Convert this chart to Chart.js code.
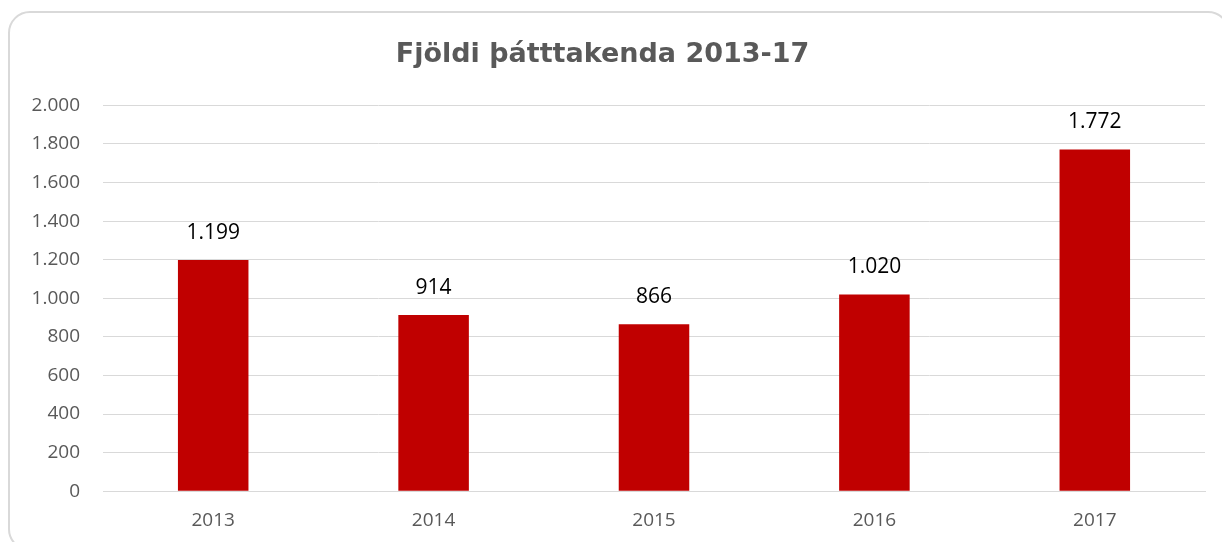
<!DOCTYPE html>
<html>
<head>
<meta charset="utf-8">
<script src="https://cdn.jsdelivr.net/npm/chart.js@4.4.0/dist/chart.umd.min.js"></script>
<style>
  html, body { margin: 0; padding: 0; background: #fff; }
  #wrap { position: relative; width: 1222px; height: 542px; }
  #frame { position: absolute; left: 8px; top: 11px; width: 1222px; height: 540px;
           border: 2px solid #d9d9d9; border-radius: 22px; box-sizing: border-box; }
  canvas { position: absolute; left: 0; top: 0; }
</style>
</head>
<body>
<div id="wrap">
  <div id="frame"></div>
  <canvas id="chart" width="1222" height="542"></canvas>
</div>
<script>
var years = ["2013", "2014", "2015", "2016", "2017"];
var participants = [1199, 914, 866, 1020, 1772];
var yTicks = [0, 200, 400, 600, 800, 1000, 1200, 1400, 1600, 1800, 2000];

/* thousands separator with a dot */
var fmt = function(v){
  return String(v).replace(/\B(?=(\d{3})+(?!\d))/g, ".");
};

/* draws the value above each bar */
var barLabels = {
  id: 'barLabels',
  afterDatasetsDraw: function(chart){
    var ctx = chart.ctx;
    var meta = chart.getDatasetMeta(0);
    ctx.save();
    ctx.font = '21px "Open Sans", "Liberation Sans", sans-serif';
    ctx.fillStyle = '#000000';
    ctx.textAlign = 'center';
    ctx.textBaseline = 'middle';
    meta.data.forEach(function(bar, i){
      ctx.fillText(fmt(chart.data.datasets[0].data[i]), bar.x, bar.y - 27);
    });
    ctx.restore();
  }
};

var ctx = document.getElementById("chart");
var myChart = new Chart(ctx, {
  type: 'bar',
  data: {
    labels: years,
    datasets: [{
      data: participants,
      backgroundColor: '#c00000',
      categoryPercentage: 1,
      barPercentage: 0.32
    }]
  },
  options: {
    responsive: false,
    animation: false,
    layout: { padding: { left: 0, right: 17, top: 39, bottom: 0 } },
    plugins: {
      legend: { display: false },
      tooltip: { enabled: false },
      title: {
        display: true,
        text: 'Fjöldi þátttakenda 2013-17',
        color: '#595959',
        font: { family: '"DejaVu Sans", sans-serif', size: 27, weight: 'bold' },
        padding: { top: 0, bottom: 34 }
      }
    },
    scales: {
      x: {
        grid: { display: false },
        border: { color: '#d9d9d9', width: 1 },
        ticks: { color: '#595959', font: { family: '"Open Sans", sans-serif', size: 19 }, padding: 10 }
      },
      y: {
        min: 0,
        max: 2000,
        afterFit: function(scale){ scale.width = 103; },
        afterBuildTicks: function(scale){
          scale.ticks = yTicks.map(function(v){ return { value: v }; });
        },
        grid: { color: '#d9d9d9', lineWidth: 1, drawTicks: false },
        border: { display: false },
        ticks: {
          color: '#595959',
          font: { family: '"Open Sans", sans-serif', size: 19 },
          padding: 23,
          callback: function(v){ return fmt(v); }
        }
      }
    }
  },
  plugins: [barLabels]
});
</script>
</body>
</html>
